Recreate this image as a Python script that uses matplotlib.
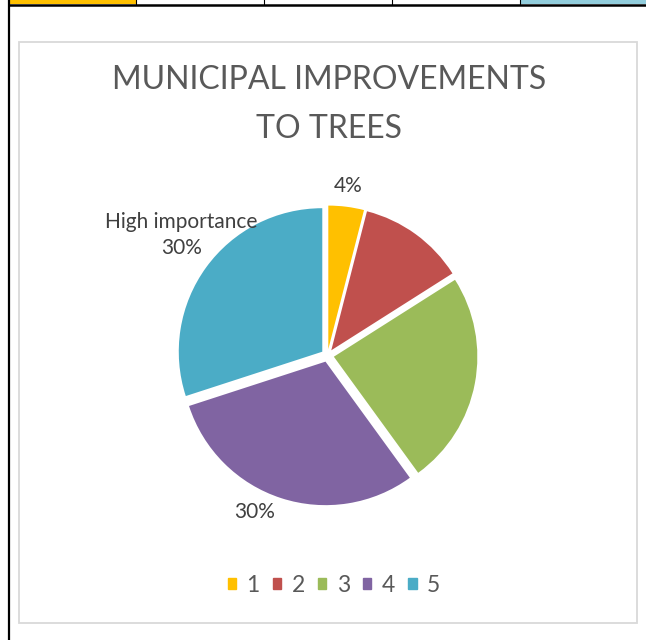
import matplotlib
matplotlib.use("Agg")
import matplotlib.pyplot as plt
from matplotlib.patches import Rectangle
import numpy as np

plt.rcParams['font.family'] = ['Lato', 'DejaVu Sans']

categories = ["1", "2", "3", "4", "5"]
values = [4, 12, 24, 30, 30]
colors = ["#FFC000", "#C0504D", "#9BBB59", "#8064A2", "#4BACC6"]
title = "MUNICIPAL IMPROVEMENTS\nTO TREES"
label_texts = {0: "4%", 3: "30%", 4: "High importance\n30%"}

W, H = 646, 640
fig = plt.figure(figsize=(W / 100, H / 100), dpi=100)
fig.patch.set_facecolor("white")

# background axes in pixel coordinates
bg = fig.add_axes([0, 0, 1, 1])
bg.set_xlim(0, W)
bg.set_ylim(H, 0)
bg.axis("off")
# spreadsheet fragment
bg.add_patch(Rectangle((9, 0), 127, 3.5, color="#FFC000", lw=0))
bg.add_patch(Rectangle((521, 0), 125, 3.5, color="#92CDDC", lw=0))
for x in [136, 264, 392, 520]:
    bg.plot([x, x], [0, 4], color="black", lw=0.8)
bg.plot([9, W], [4.5, 4.5], color="black", lw=1.8)
bg.plot([8.5, 8.5], [0, H], color="black", lw=1.6)
# chart frame
bg.add_patch(Rectangle((19, 42), 618, 581, fill=False, ec="#D9D9D9", lw=1.3))

# title
bg.text(329, 104.5, title, ha="center", va="center", fontsize=23,
        color="#595959", linespacing=1.8)

# pie
cx, cy, r = 327.5, 355.5, 143.5
half = 190
ax = fig.add_axes([(cx - half) / W, (H - cy - half) / H, 2 * half / W, 2 * half / H])
wedges, _ = ax.pie(values, colors=colors, startangle=90, counterclock=False,
                   explode=[0.045] * len(values), radius=1.0,
                   wedgeprops=dict(lw=0))
ax.set_xlim(-half / r, half / r)
ax.set_ylim(-half / r, half / r)
ax.set_aspect("equal")
ax.axis("off")

label_pos = {0: (0.145, 1.18), 3: (-0.51, -1.09), 4: (-1.02, 0.84)}
for i, txt in label_texts.items():
    x, y = label_pos[i]
    ax.text(x, y, txt, ha="center", va="center", fontsize=15,
            color="#404040", linespacing=1.4)

# legend
handles = [Rectangle((0, 0), 1, 1, color=c) for c in colors]
leg = fig.legend(handles, categories, loc="center", bbox_to_anchor=(334 / W, 1 - 585 / H),
                 ncol=5, frameon=False, fontsize=16.5, handlelength=0.36, handleheight=0.36,
                 handletextpad=0.45, columnspacing=0.58, labelcolor="#595959")

fig.savefig("out.png", dpi=100, facecolor="white")
